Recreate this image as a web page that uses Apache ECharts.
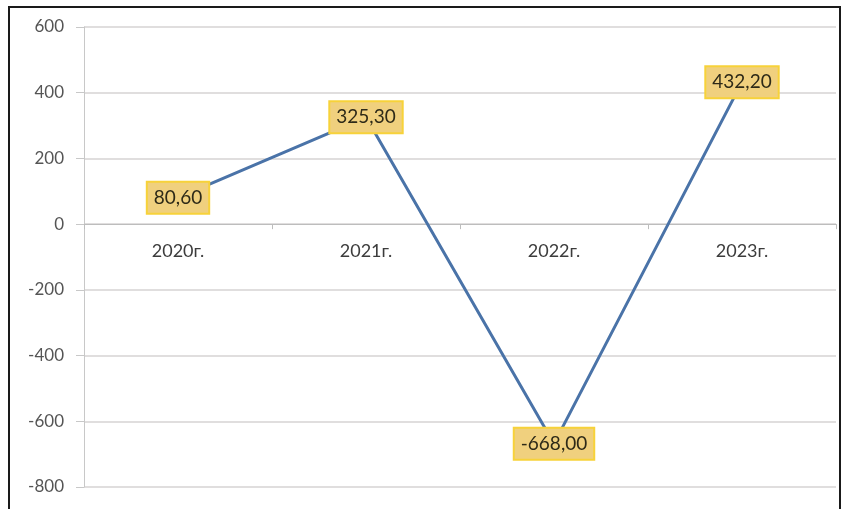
<!DOCTYPE html>
<html>
<head>
<meta charset="utf-8">
<script src="https://cdn.jsdelivr.net/npm/echarts@6/dist/echarts.min.js"></script>
<style>
  html, body { margin: 0; padding: 0; background: #fff; }
  #frame { position: absolute; left: 8px; top: 6px; width: 833px; height: 520px; border: 2px solid #1a1a1a; box-sizing: border-box; }
  #chart { position: absolute; left: 0; top: 0; width: 848px; height: 509px; }
</style>
</head>
<body>
<div id="frame"></div>
<div id="chart"></div>
<script>
  const categories = ['2020г.', '2021г.', '2022г.', '2023г.'];
  const values = [80.6, 325.3, -668.0, 432.2];
  const yTicks = [-800, -600, -400, -200, 0, 200, 400, 600];

  const gridTop = 27, gridBottom = 22, chartH = 509;
  const yMin = yTicks[0], yMax = yTicks[yTicks.length - 1];
  const plotH = chartH - gridTop - gridBottom;
  // move x axis up to the zero line (labels included)
  const zeroOffset = -(plotH * (0 - yMin) / (yMax - yMin));

  const myChart = echarts.init(document.getElementById('chart'));
  myChart.setOption({
    animation: false,
    textStyle: {fontFamily: 'Lato, "Liberation Sans", sans-serif'},
    grid: {left: 84, right: 12, top: gridTop, bottom: gridBottom},
    xAxis: {
      type: 'category',
      data: categories,
      boundaryGap: true,
      offset: zeroOffset,
      axisLine: {onZero: false, lineStyle: {color: '#bdbdbd', width: 1}},
      axisTick: {show: true, length: 5, lineStyle: {color: '#bdbdbd'}},
      axisLabel: {color: '#3c3c3c', fontSize: 18, margin: 18}
    },
    yAxis: {
      type: 'value',
      min: yMin,
      max: yMax,
      interval: 200,
      axisLine: {show: true, lineStyle: {color: '#c8c8c8'}},
      axisTick: {show: true, length: 8, lineStyle: {color: '#c8c8c8'}},
      splitLine: {lineStyle: {color: '#d6d3d3', width: 1.5}},
      axisLabel: {color: '#555555', fontSize: 17, margin: 20}
    },
    series: [{
      type: 'line',
      data: values,
      symbol: 'circle',
      symbolSize: 1,
      showSymbol: true,
      itemStyle: {color: 'rgba(0,0,0,0)'},
      lineStyle: {color: '#4a73a8', width: 3},
      label: {
        show: true,
        position: 'inside',
        formatter(p) {
          return p.value.toFixed(2).replace('.', ',');
        },
        color: '#2e2a18',
        fontSize: 19,
        backgroundColor: '#f0d07e',
        borderColor: '#f7d23a',
        borderWidth: 2,
        padding: [6, 6, 5, 6]
      }
    }]
  });
</script>
</body>
</html>
